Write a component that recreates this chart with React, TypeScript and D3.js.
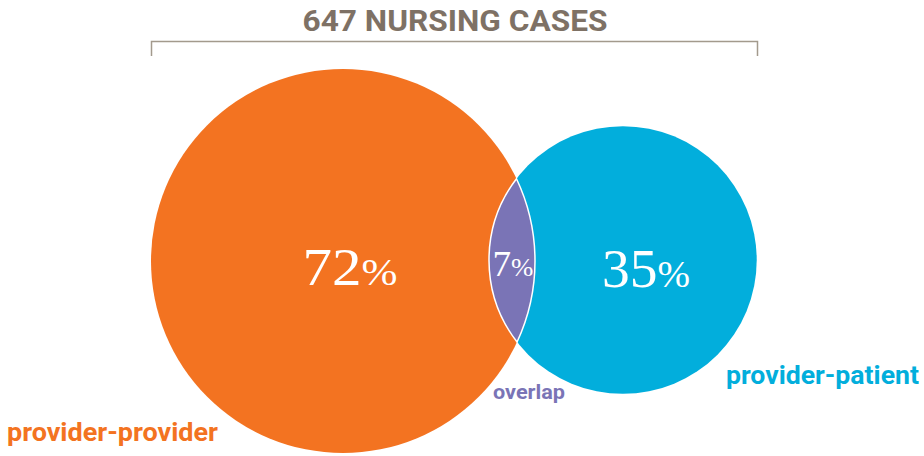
import React from "react";
import * as d3 from "d3";

const totalCases = 647;
const setNames = ["provider-provider", "provider-patient"];
const setValues = [72, 35];
const overlapValue = 7;
const overlapName = "overlap";
const colors = ["#f37321", "#02aedc"];
const overlapColor = "#7a74b6";

const W = 924;
const H = 456;

export default function App() {
  const rScale = d3.scaleSqrt().domain([0, 72]).range([0, 192]);
  const r1 = rScale(setValues[0]);
  const r2 = rScale(setValues[1]);
  const c1 = { x: 343, y: 261 };
  const lensWidth = 46;
  const c2 = { x: c1.x + r1 + r2 - lensWidth, y: 260 };

  // intersection
  const dx = c2.x - c1.x;
  const dy = c2.y - c1.y;
  const d = Math.hypot(dx, dy);
  const a = (d * d + r1 * r1 - r2 * r2) / (2 * d);
  const h = Math.sqrt(r1 * r1 - a * a);
  const mx = c1.x + (a * dx) / d;
  const my = c1.y + (a * dy) / d;
  const p1 = { x: mx + (h * dy) / d, y: my - (h * dx) / d };
  const p2 = { x: mx - (h * dy) / d, y: my + (h * dx) / d };
  const top = p1.y < p2.y ? p1 : p2;
  const bot = p1.y < p2.y ? p2 : p1;
  const lens = `M${top.x},${top.y} A${r1},${r1} 0 0 1 ${bot.x},${bot.y} A${r2},${r2} 0 0 1 ${top.x},${top.y} Z`;

  const serif = "'Liberation Serif', 'DejaVu Serif', serif";
  const sans = "Roboto, 'Open Sans', sans-serif";

  return (
    <svg
      width={W}
      height={H}
      viewBox={`0 0 ${W} ${H}`}
      style={{ position: "absolute", left: 0, top: 0, background: "#fff" }}
    >
      <text
        x={455}
        y={31}
        textAnchor="middle"
        fontFamily="'Liberation Sans Narrow', Roboto, sans-serif"
        fontWeight={700}
        fontSize={29}
        fill="#7e7165"
        textLength={305}
        lengthAdjust="spacingAndGlyphs"
      >
        {`${totalCases} NURSING CASES`}
      </text>
      <path
        d="M151.5,56 V41.5 H757.5 V56"
        fill="none"
        stroke="#a39a8d"
        strokeWidth={1.5}
      />
      <circle cx={c1.x} cy={c1.y} r={r1} fill={colors[0]} />
      <circle cx={c2.x} cy={c2.y} r={r2} fill={colors[1]} />
      <path d={lens} fill={overlapColor} stroke="#fff" strokeWidth={1.5} />

      <text
        x={350}
        y={285}
        textAnchor="middle"
        fontFamily={serif}
        fill="#fff"
        textLength={95}
        lengthAdjust="spacingAndGlyphs"
      >
        <tspan fontSize={52}>{setValues[0]}</tspan>
        <tspan fontSize={38}>%</tspan>
      </text>
      <text
        x={646}
        y={287}
        textAnchor="middle"
        fontFamily={serif}
        fill="#fff"
        textLength={88}
        lengthAdjust="spacingAndGlyphs"
      >
        <tspan fontSize={54}>{setValues[1]}</tspan>
        <tspan fontSize={38}>%</tspan>
      </text>
      <text
        x={513}
        y={276}
        textAnchor="middle"
        fontFamily={serif}
        fill="#fff"
        textLength={41}
        lengthAdjust="spacingAndGlyphs"
      >
        <tspan fontSize={36}>{overlapValue}</tspan>
        <tspan fontSize={26}>%</tspan>
      </text>

      <text
        x={7}
        y={441}
        fontFamily={sans}
        fontWeight={700}
        fontSize={26}
        fill={colors[0]}
        textLength={211}
        lengthAdjust="spacingAndGlyphs"
      >
        {setNames[0]}
      </text>
      <text
        x={726}
        y={384}
        fontFamily={sans}
        fontWeight={700}
        fontSize={26}
        fill={colors[1]}
        textLength={193}
        lengthAdjust="spacingAndGlyphs"
      >
        {setNames[1]}
      </text>
      <text
        x={493}
        y={399}
        fontFamily={sans}
        fontWeight={700}
        fontSize={20}
        fill={overlapColor}
        textLength={72}
        lengthAdjust="spacingAndGlyphs"
      >
        {overlapName}
      </text>
    </svg>
  );
}
